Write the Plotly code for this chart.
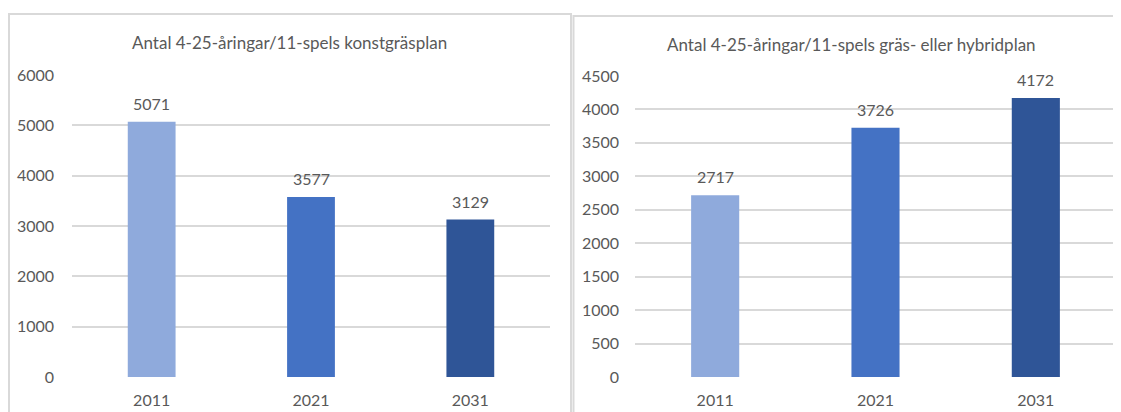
import plotly.graph_objects as go

# The page body keeps the browser's default 8px margin, so the figure is
# sized to fill the window from (8, 8) and positions below are page pixels.
OX, OY = 8, 8
W, H = 1121 - OX, 412 - OY

years = ["2011", "2021", "2031"]
konstgras = [5071, 3577, 3129]
hybrid = [2717, 3726, 4172]
bar_colors = ["#8FAADC", "#4472C4", "#2F5597"]
title_left = "Antal 4-25-åringar/11-spels konstgräsplan"
title_right = "Antal 4-25-åringar/11-spels gräs- eller hybridplan"
left_ticks = [0, 1000, 2000, 3000, 4000, 5000, 6000]
right_ticks = [0, 500, 1000, 1500, 2000, 2500, 3000, 3500, 4000, 4500]

FONT = "Lato"
GRAY = "#595959"
GRID = "#D9D9D9"


def px(x):
    return (x - OX) / W


def py(y):
    return 1 - (y - OY) / H


fig = go.Figure()
fig.add_trace(go.Bar(x=years, y=konstgras, marker=dict(color=bar_colors, line=dict(width=0)),
                     width=0.3, xaxis="x", yaxis="y", hoverinfo="x+y"))
fig.add_trace(go.Bar(x=years, y=hybrid, marker=dict(color=bar_colors, line=dict(width=0)),
                     width=0.3, xaxis="x2", yaxis="y2", hoverinfo="x+y"))

annotations = []
for xa, ya, vals in (("x", "y", konstgras), ("x2", "y2", hybrid)):
    for i, v in enumerate(vals):
        annotations.append(dict(x=i, y=v, xref=xa, yref=ya, text=str(v), showarrow=False,
                                xanchor="center", yanchor="bottom", yshift=7,
                                font=dict(family=FONT, size=16, color=GRAY)))

annotations.append(dict(x=px(289), y=py(43), xref="paper", yref="paper", text=title_left,
                        showarrow=False, xanchor="center", yanchor="middle",
                        font=dict(family=FONT, size=17, color=GRAY)))
annotations.append(dict(x=px(851), y=py(45), xref="paper", yref="paper", text=title_right,
                        showarrow=False, xanchor="center", yanchor="middle",
                        font=dict(family=FONT, size=17, color=GRAY)))

axis_common = dict(showline=False, zeroline=False, ticks="",
                   tickfont=dict(family=FONT, size=16, color=GRAY), fixedrange=True,
                   automargin=False)

shapes = []
def hline(x0, x1, y):
    shapes.append(dict(type="line", xref="paper", yref="paper", x0=px(x0), x1=px(x1),
                       y0=py(y), y1=py(y), line=dict(color=GRID, width=2)))

def vline(x, y0, y1):
    shapes.append(dict(type="line", xref="paper", yref="paper", x0=px(x), x1=px(x),
                       y0=py(y0), y1=py(y1), line=dict(color=GRID, width=2)))

hline(9, 571, 14)
vline(9, 13, 412)
vline(571, 13, 412)
hline(573, 1121, 16)
vline(573.5, 15, 412)

fig.update_layout(
    width=W, height=H,
    margin=dict(l=0, r=0, t=0, b=0, autoexpand=False),
    paper_bgcolor="white", plot_bgcolor="white",
    showlegend=False,
    xaxis=dict(domain=[px(72), px(550)], anchor="y", type="category", range=[-0.5, 2.5],
               showgrid=False, ticklabelstandoff=12, **axis_common),
    yaxis=dict(domain=[py(377), py(75)], anchor="x", range=[0, 6000.01],
               tickvals=left_ticks, showgrid=True, gridcolor=GRID, gridwidth=1.5,
               ticklabelstandoff=17, **axis_common),
    xaxis2=dict(domain=[px(635), px(1116)], anchor="y2", type="category", range=[-0.5, 2.5],
                showgrid=False, ticklabelstandoff=12, **axis_common),
    yaxis2=dict(domain=[py(377), py(76)], anchor="x2", range=[0, 4500.01],
                tickvals=right_ticks, showgrid=True, gridcolor=GRID, gridwidth=1.5,
                ticklabelstandoff=15, **axis_common),
    annotations=annotations,
    shapes=shapes,
)

fig.write_html("out.html")
